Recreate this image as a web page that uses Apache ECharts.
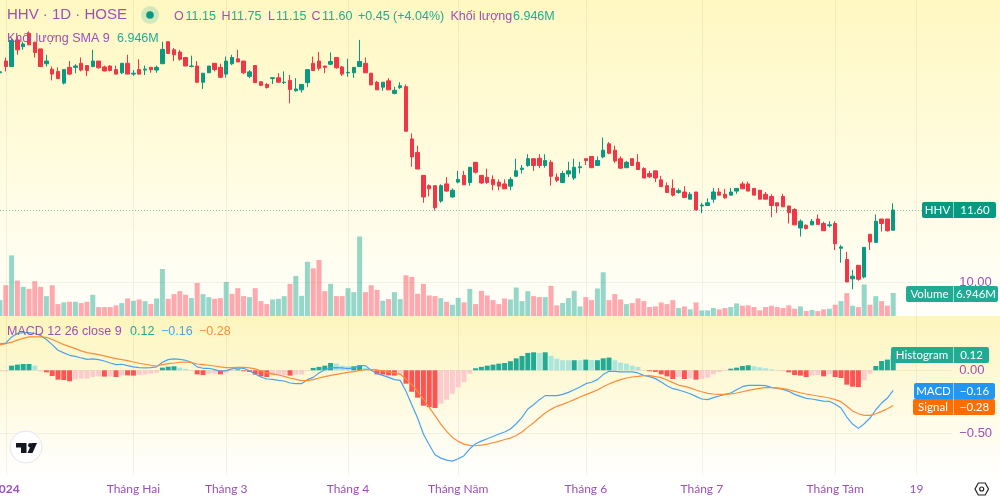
<!DOCTYPE html>
<html><head><meta charset="utf-8">
<style>
html,body{margin:0;padding:0;background:#fff}
#c{width:1000px;height:499px;background:
linear-gradient(to bottom,#fff8c2 0,#fffffa 316px,transparent 316px),
linear-gradient(to bottom,transparent 316px,#fdf5bd 316px,#ffffff 478px,#ffffff 499px)}
</style>
<script src="https://cdn.jsdelivr.net/npm/echarts@6/dist/echarts.min.js"></script>
</head><body><div id="c"></div>
<script>
const opens=[14.65,14.91,14.79,15.38,15.23,15.53,15.33,15.18,14.85,14.73,14.68,14.42,14.77,14.77,14.86,14.81,14.79,14.91,14.78,14.80,14.72,14.65,14.86,14.62,14.72,14.71,14.77,14.71,14.85,15.34,15.16,15.11,14.99,14.79,14.80,14.44,14.65,14.86,14.77,14.62,14.85,14.96,14.91,14.57,14.81,14.45,14.39,14.52,14.54,14.43,14.48,14.25,14.27,14.43,14.86,14.91,14.80,14.84,14.99,14.78,14.65,14.65,14.79,14.86,14.64,14.44,14.33,14.47,14.19,14.32,14.34,13.18,12.88,12.37,12.14,12.14,11.80,12.18,11.89,12.22,12.37,12.21,12.66,12.37,12.33,12.28,12.22,12.18,12.13,12.35,12.50,12.59,12.74,12.75,12.59,12.66,12.33,12.21,12.40,12.31,12.54,12.74,12.79,12.59,12.78,13.07,12.93,12.74,12.54,12.74,12.66,12.52,12.41,12.47,12.27,12.14,12.08,11.99,12.00,11.84,12.00,11.69,11.70,11.84,12.00,11.95,11.93,12.02,12.18,12.18,12.08,12.04,11.95,11.90,11.76,11.90,11.69,11.61,11.20,11.26,11.27,11.40,11.30,11.25,11.30,10.75,10.50,10.07,10.37,10.11,11.06,10.88,11.40,11.40,11.15];
const closes=[14.67,14.79,15.37,15.16,15.29,15.27,15.10,14.79,14.91,14.62,14.52,14.72,14.62,14.80,14.71,14.70,14.91,14.76,14.69,14.70,14.62,14.86,14.62,14.64,14.62,14.73,14.72,14.77,15.17,15.08,15.05,14.95,14.80,14.80,14.44,14.64,14.80,14.72,14.55,14.91,14.99,14.89,14.65,14.67,14.43,14.37,14.32,14.54,14.44,14.44,14.28,14.29,14.39,14.72,14.70,14.75,14.77,14.90,14.76,14.62,14.66,14.77,14.90,14.65,14.38,14.27,14.44,14.27,14.26,14.36,13.35,12.78,12.51,11.89,12.07,11.65,12.14,12.02,12.04,12.28,12.16,12.55,12.44,12.20,12.21,12.16,12.13,12.07,12.28,12.47,12.53,12.74,12.59,12.59,12.70,12.35,12.26,12.41,12.47,12.55,12.56,12.70,12.54,12.70,12.93,12.86,12.69,12.53,12.66,12.59,12.50,12.31,12.34,12.31,12.12,11.99,11.93,12.03,11.88,11.95,11.60,11.71,11.76,12.00,11.93,11.87,12.00,12.08,12.07,12.02,11.93,11.84,11.84,11.70,11.69,11.67,11.54,11.27,11.35,11.19,11.35,11.28,11.14,11.27,10.85,10.78,10.00,10.13,10.06,10.77,10.89,11.35,11.30,11.14,11.60];
const lows=[14.62,14.68,14.79,15.05,15.16,15.27,14.99,14.79,14.79,14.48,14.51,14.39,14.60,14.64,14.68,14.58,14.77,14.74,14.68,14.68,14.61,14.62,14.62,14.58,14.61,14.60,14.65,14.65,14.85,15.08,14.91,14.92,14.80,14.77,14.42,14.29,14.65,14.68,14.54,14.54,14.82,14.89,14.62,14.53,14.43,14.36,14.30,14.40,14.43,14.40,13.97,14.23,14.21,14.33,14.70,14.70,14.64,14.82,14.74,14.58,14.56,14.54,14.79,14.65,14.38,14.27,14.25,14.27,14.17,14.29,13.35,12.56,12.51,11.76,11.90,11.59,11.76,12.01,11.87,12.19,12.16,12.14,12.41,12.18,12.18,12.04,12.04,12.07,12.04,12.34,12.41,12.56,12.47,12.53,12.54,12.14,12.22,12.21,12.33,12.27,12.41,12.60,12.54,12.59,12.75,12.84,12.65,12.51,12.54,12.59,12.50,12.31,12.31,12.22,12.11,11.99,11.90,11.96,11.87,11.84,11.60,11.53,11.70,11.76,11.93,11.85,11.93,11.96,12.07,12.02,11.93,11.84,11.84,11.44,11.53,11.67,11.30,11.27,11.01,11.17,11.26,11.28,11.14,11.21,10.71,10.43,10.00,9.84,10.03,10.08,10.71,10.88,11.12,11.12,11.15];
const highs=[14.70,14.99,15.40,15.45,15.34,15.57,15.33,15.18,15.05,14.79,14.77,14.72,14.91,14.84,14.99,14.81,15.16,14.91,14.81,14.82,14.81,14.86,15.05,14.71,14.95,14.81,14.77,14.81,15.34,15.34,15.20,15.16,14.99,15.03,14.91,14.64,14.80,14.86,14.85,15.01,15.05,15.16,14.91,14.71,14.81,14.45,14.42,14.54,14.64,14.68,14.60,14.53,14.39,14.72,15.01,15.11,14.80,15.10,14.99,14.80,14.96,14.77,15.38,14.99,14.64,14.47,14.44,14.53,14.34,14.44,14.39,13.30,13.03,12.37,12.17,12.14,12.17,12.33,12.08,12.47,12.47,12.55,12.66,12.37,12.52,12.37,12.28,12.28,12.33,12.74,12.60,12.84,12.74,12.84,12.84,12.71,12.41,12.47,12.67,12.74,12.67,12.74,12.79,12.79,13.21,13.11,13.03,12.79,12.69,12.74,12.84,12.55,12.47,12.47,12.36,12.21,12.28,12.08,12.13,12.00,12.00,11.76,11.86,12.09,12.09,12.07,12.09,12.08,12.23,12.23,12.08,12.04,12.00,11.95,11.76,11.96,11.69,11.64,11.39,11.28,11.40,11.50,11.34,11.35,11.35,10.82,10.67,10.27,10.37,10.77,11.06,11.50,11.40,11.40,11.75];
const volumes=[4.8,9.3,18.3,10.7,8.8,8.2,10.5,8.8,6.0,9.3,3.6,4.1,4.3,4.3,3.9,4.3,6.4,2.7,2.7,2.7,3.2,3.9,5.3,4.6,5.0,4.5,3.6,5.3,14.2,5.2,6.6,7.5,6.4,5.4,10.0,6.6,5.7,5.2,5.4,10.3,6.7,8.4,6.0,5.7,8.4,4.5,3.6,5.0,5.2,6.0,9.7,12.1,6.1,16.4,14.4,16.9,7.5,9.7,6.0,6.0,8.4,7.2,24.0,7.2,9.3,7.9,4.6,5.1,7.2,5.1,12.3,11.8,6.7,9.7,6.2,6.0,5.4,4.3,3.4,5.5,4.1,8.2,3.6,7.6,6.2,4.8,3.6,5.3,5.0,8.6,4.5,7.5,6.0,5.7,5.7,9.1,3.2,3.9,5.4,7.6,2.9,5.7,4.8,8.3,13.2,4.8,6.6,5.0,3.6,3.9,5.3,4.5,2.7,2.9,4.1,3.6,4.8,2.4,2.9,2.0,4.1,1.7,1.7,2.4,2.0,2.4,2.7,3.8,3.1,3.2,2.7,1.7,2.7,3.1,2.7,2.4,3.2,2.2,2.9,1.5,1.8,1.5,2.0,2.2,3.4,4.5,6.9,3.1,2.7,9.5,3.4,6.0,4.5,3.1,6.946];
const volumeSides=("udududddud"+"dududduddd"+"dudududuud"+"ddduduuddu"+"ddduddduuu"+"duuudddudd"+"uuuddduduu"+"dddddduduu"+"dudddddduu"+"uuddudduuu"+"udduudddud"+"dddddddudu"+"duuudduudd"+"ddddddddud"+"uddudududu"+"duddu").split("");
const macdLine=[.209,.215,.265,.292,.299,.299,.292,.276,.244,.204,.159,.138,.119,.111,.098,.087,.090,.085,.074,.058,.045,.048,.037,.027,.021,.019,.021,.027,.064,.085,.090,.087,.080,.064,.027,.016,.016,.005,-.008,-.003,.011,.019,.016,-.003,-.029,-.053,-.069,-.072,-.080,-.085,-.101,-.106,-.106,-.074,-.056,-.021,.005,.019,.021,.019,.013,.019,.037,.037,0,-.027,-.040,-.056,-.074,-.080,-.167,-.273,-.379,-.506,-.591,-.670,-.697,-.713,-.721,-.702,-.678,-.623,-.583,-.562,-.543,-.525,-.506,-.490,-.466,-.424,-.374,-.307,-.273,-.233,-.201,-.201,-.201,-.191,-.175,-.154,-.133,-.106,-.095,-.074,-.034,-.008,-.008,-.013,-.013,-.013,-.021,-.040,-.050,-.066,-.093,-.122,-.146,-.156,-.170,-.186,-.207,-.228,-.233,-.217,-.204,-.191,-.180,-.154,-.130,-.119,-.119,-.119,-.122,-.135,-.143,-.151,-.167,-.191,-.207,-.223,-.228,-.236,-.244,-.246,-.270,-.299,-.371,-.427,-.461,-.424,-.379,-.313,-.260,-.220,-.16];
const signalLine=[.201,.212,.223,.239,.254,.265,.265,.265,.262,.244,.225,.204,.188,.172,.154,.140,.133,.125,.114,.103,.093,.085,.077,.066,.056,.048,.040,.034,.045,.053,.058,.064,.066,.061,.050,.045,.040,.034,.027,.021,.021,.024,.024,.019,.011,-.005,-.021,-.029,-.037,-.048,-.061,-.072,-.082,-.082,-.074,-.061,-.050,-.040,-.032,-.024,-.016,-.011,0,.005,.005,.003,-.005,-.013,-.021,-.032,-.069,-.114,-.167,-.228,-.294,-.360,-.427,-.485,-.533,-.564,-.586,-.596,-.599,-.594,-.586,-.575,-.564,-.549,-.538,-.517,-.490,-.451,-.416,-.376,-.339,-.310,-.286,-.270,-.252,-.233,-.212,-.193,-.175,-.156,-.130,-.109,-.090,-.074,-.061,-.053,-.048,-.042,-.042,-.050,-.058,-.077,-.098,-.117,-.127,-.140,-.156,-.170,-.183,-.188,-.191,-.191,-.188,-.180,-.170,-.159,-.151,-.143,-.138,-.138,-.140,-.146,-.154,-.167,-.178,-.188,-.196,-.204,-.212,-.220,-.233,-.249,-.286,-.323,-.345,-.358,-.358,-.345,-.326,-.305,-.28];
const histogram=[-.008,-.008,.037,.045,.050,.050,.037,-.008,-.016,-.045,-.074,-.077,-.087,-.072,-.066,-.066,-.053,-.048,-.050,-.048,-.053,-.040,-.040,-.042,-.037,-.032,-.027,-.019,.021,.029,.032,.021,.011,-.003,-.032,-.037,-.027,-.027,-.032,-.019,-.005,.008,-.008,-.013,-.034,-.048,-.053,-.040,-.037,-.037,-.042,-.034,-.032,-.003,.019,.027,.037,.058,.053,.037,.032,.032,.040,.019,-.003,-.032,-.034,-.040,-.042,-.032,-.106,-.170,-.217,-.281,-.292,-.299,-.265,-.233,-.186,-.135,-.093,-.027,.016,.027,.037,.045,.053,.058,.072,.095,.114,.138,.143,.138,.143,.114,.093,.080,.080,.080,.080,.085,.082,.080,.095,.101,.080,.061,.053,.037,.027,.003,-.008,-.013,-.032,-.048,-.069,-.053,-.069,-.064,-.074,-.069,-.058,-.032,-.013,-.003,.013,.021,.034,.040,.032,.024,.016,.008,.003,-.008,-.016,-.037,-.042,-.053,-.040,-.037,-.048,-.032,-.053,-.061,-.114,-.130,-.133,-.080,-.027,.034,.074,.085,.12];
const histogramKinds=("rrGGGGgrRR"+"RRRrrrrrRr"+"RrRRrrrrGG"+"GggrRRrrRr"+"rGRRRRRrrr"+"RrrrGGGGgg"+"gGGgrRRRRr"+"RRRRRRrrrr"+"rrGGGGGGGG"+"GGGgGggggG"+"gGgGGGgggg"+"ggRRRRRrRr"+"RrrrrrGGGG"+"gggggrRRRR"+"rrRrRRRRRr"+"rGGGG").split("");
const tickLabels=["2024","Tháng Hai","Tháng 3","Tháng 4","Tháng Năm","Tháng 6","Tháng 7","Tháng Tám","19"];
const tickSlots=[1,23,39,60,79,101,121,144,158];
const slotCount=165;
const priceTicks=[10];
const macdTicks=[0,-0.5];
const lastPrice=11.6;

const PURPLE="#9c4fb8",GREEN="#22ab94",BAND=5.8;
const kindColor={G:"#22ab94",g:"#ace5dc",R:"#ff5252",r:"#fccbcd"};
const categories=Array.from({length:slotCount},()=>"");
tickSlots.forEach((s,k)=>categories[s]=tickLabels[k]);
const candles=opens.map((o,i)=>[o,closes[i],lows[i],highs[i]]);
const gridLine={lineStyle:{color:"rgba(110,110,90,0.09)",width:1}};
const xBase=(grid,extra)=>Object.assign({type:"category",gridIndex:grid,data:categories,boundaryGap:false,
  axisLine:{show:false},axisTick:{show:false},axisLabel:{show:false},
  splitLine:{show:true,interval:(i,v)=>v!=="",...gridLine}},extra||{});
const FONT="Liberation Sans";
function txt(x,y,s,fill,size,extra){return Object.assign({type:"text",silent:true,z:50,x,y,style:{text:s,fill,font:(size||12.5)+"px '"+FONT+"'",textVerticalAlign:"middle"}},extra||{});}
function box(x,y,w,h,fill,r){return {type:"rect",silent:true,z:40,shape:{x,y,width:w,height:h,r:r||0},style:{fill}};}
function tag(x0,mid,x1,y,h,fill,a,b){return [
  box(x0,y,x1-x0,h,fill,2),
  {type:"rect",silent:true,z:41,shape:{x:mid,y:y,width:1,height:h},style:{fill:"rgba(255,255,255,0.55)"}},
  {type:"text",silent:true,z:50,x:(x0+mid)/2,y:y+h/2,style:{text:a,fill:"#fff",font:"11.5px 'Lato'",textAlign:"center",textVerticalAlign:"middle"}},
  {type:"text",silent:true,z:50,x:(mid+x1)/2+0.5,y:y+h/2,style:{text:b,fill:"#fff",font:"11.5px 'Lato'",textAlign:"center",textVerticalAlign:"middle"}}
];}
const graphics=[
  txt(7,15,"HHV · 1D · HOSE",PURPLE,15),
  {type:"circle",silent:true,z:50,shape:{cx:150,cy:15,r:9},style:{fill:"rgba(34,171,148,0.2)"}},
  {type:"circle",silent:true,z:51,shape:{cx:150,cy:15,r:3.8},style:{fill:"#089981"}},
  txt(174,17,"O",PURPLE),txt(185.5,17,"11.15",GREEN),
  txt(221.5,17,"H",PURPLE),txt(231,17,"11.75",GREEN),
  txt(268,17,"L",PURPLE),txt(276,17,"11.15",GREEN),
  txt(311.5,17,"C",PURPLE),txt(322,17,"11.60",GREEN),
  txt(358,17,"+0.45 (+4.04%)",GREEN),
  txt(450.5,17,"Khối lượng",PURPLE),txt(513,17,"6.946M",GREEN),
  txt(7,38.5,"Khối lượng SMA 9",PURPLE),txt(117,38.5,"6.946M",GREEN),
  txt(7,332,"MACD 12 26 close 9",PURPLE),txt(130,332,"0.12",GREEN),
  txt(161,332,"−0.16","#4aa3f0"),txt(199,332,"−0.28","#ff8c3a"),
  ...tag(922,953,996,202,16,"#089981","HHV","11.60"),
  ...tag(906,953,998,286,16,GREEN,"Volume","6.946M"),
  ...tag(891,953,989,347,16,GREEN,"Histogram","0.12"),
  ...tag(914,953,995,383,16,"#2196f3","MACD","−0.16"),
  ...tag(913,953,995,399,16,"#ff6d00","Signal","−0.28"),
  {type:"circle",silent:true,z:50,shape:{cx:26,cy:447,r:16},style:{fill:"#fff",stroke:"#e4e4ee",lineWidth:1}},
  {type:"polygon",silent:true,z:51,shape:{points:[[16,443],[26.5,443],[26.5,453],[21,453],[21,447.5],[16,447.5]]},style:{fill:"#131722"}},
  {type:"circle",silent:true,z:51,shape:{cx:30.4,cy:445.3,r:2.3},style:{fill:"#131722"}},
  {type:"polygon",silent:true,z:51,shape:{points:[[37,443],[32.5,453],[27.5,453],[32,443]]},style:{fill:"#131722"}},
  {type:"polygon",silent:true,z:50,shape:{points:[[975,489],[978.3,483],[985.2,483],[988.5,489],[985.2,495],[978.3,495]]},style:{fill:"none",stroke:"#222",lineWidth:1.2}},
  {type:"circle",silent:true,z:50,shape:{cx:981.7,cy:489,r:2},style:{fill:"none",stroke:"#222",lineWidth:1.2}},
];
const chart=echarts.init(document.getElementById("c"),null,{renderer:"canvas"});
chart.setOption({
  animation:false,backgroundColor:"transparent",
  grid:[
    {left:0,top:0,width:BAND*(slotCount-1),height:316,outerBoundsMode:"none"},
    {left:0,top:236,width:BAND*(slotCount-1),height:80,outerBoundsMode:"none"},
    {left:0,top:316,width:BAND*(slotCount-1),height:159,outerBoundsMode:"none"}
  ],
  xAxis:[
    xBase(0),
    xBase(1,{splitLine:{show:false}}),
    xBase(2,{axisLabel:{show:true,interval:0,margin:8,color:PURPLE,fontFamily:"Lato",fontSize:12,
      formatter:v=>v==="2024"?"{b|2024}":v,rich:{b:{fontWeight:"bold",color:PURPLE,fontFamily:"Lato",fontSize:12}}}})
  ],
  yAxis:[
    {type:"value",gridIndex:0,position:"right",min:9.244,max:16.267,scale:true,axisLine:{show:false},axisTick:{show:false},splitLine:{show:false},
     axisLabel:{show:true,customValues:priceTicks,formatter:v=>v.toFixed(2),color:PURPLE,fontFamily:FONT,fontSize:13,margin:8}},
    {type:"value",gridIndex:1,min:0,max:24.16,show:false,splitLine:{show:false}},
    {type:"value",gridIndex:2,position:"right",min:-0.831,max:0.431,axisLine:{show:false},axisTick:{show:false},splitLine:{show:false},
     axisLabel:{show:true,customValues:macdTicks,formatter:v=>(v<0?"−":"")+Math.abs(v).toFixed(2),color:PURPLE,fontFamily:FONT,fontSize:13,margin:8}}
  ],
  series:[
    {type:"candlestick",name:"HHV",xAxisIndex:0,yAxisIndex:0,data:[...candles],barWidth:4,z:4,clip:false,
     itemStyle:{color:"#089981",color0:"#f23645",borderColor:"#089981",borderColor0:"#f23645",borderWidth:1},
     markLine:{silent:true,symbol:"none",animation:false,label:{show:false},data:[
       {yAxis:lastPrice,lineStyle:{color:"#089981",type:[1,2],width:1,opacity:.5}},
       {yAxis:priceTicks[0],lineStyle:{color:"rgba(110,110,90,0.09)",type:"solid",width:1}}
     ]}},
    {type:"bar",name:"Volume",xAxisIndex:1,yAxisIndex:1,barWidth:5,z:3,
     data:volumes.map((v,i)=>({value:v,itemStyle:{color:volumeSides[i]==="u"?"rgba(34,171,148,0.48)":"rgba(255,82,100,0.5)"}}))},
    {type:"bar",name:"Histogram",xAxisIndex:2,yAxisIndex:2,barWidth:5,z:3,
     data:histogram.map((v,i)=>({value:v,itemStyle:{color:kindColor[histogramKinds[i]]}})),
     markLine:{silent:true,symbol:"none",animation:false,label:{show:false},lineStyle:{color:"rgba(110,110,90,0.09)",type:"solid",width:1},
       data:macdTicks.map(v=>({yAxis:v}))}},
    {type:"line",name:"MACD",xAxisIndex:2,yAxisIndex:2,data:macdLine,showSymbol:false,symbol:"none",z:5,lineStyle:{color:"#4aa3f0",width:1.2}},
    {type:"line",name:"Signal",xAxisIndex:2,yAxisIndex:2,data:signalLine,showSymbol:false,symbol:"none",z:5,lineStyle:{color:"#ff8c3a",width:1.2}}
  ],
  graphic:graphics
});
</script></body></html>
